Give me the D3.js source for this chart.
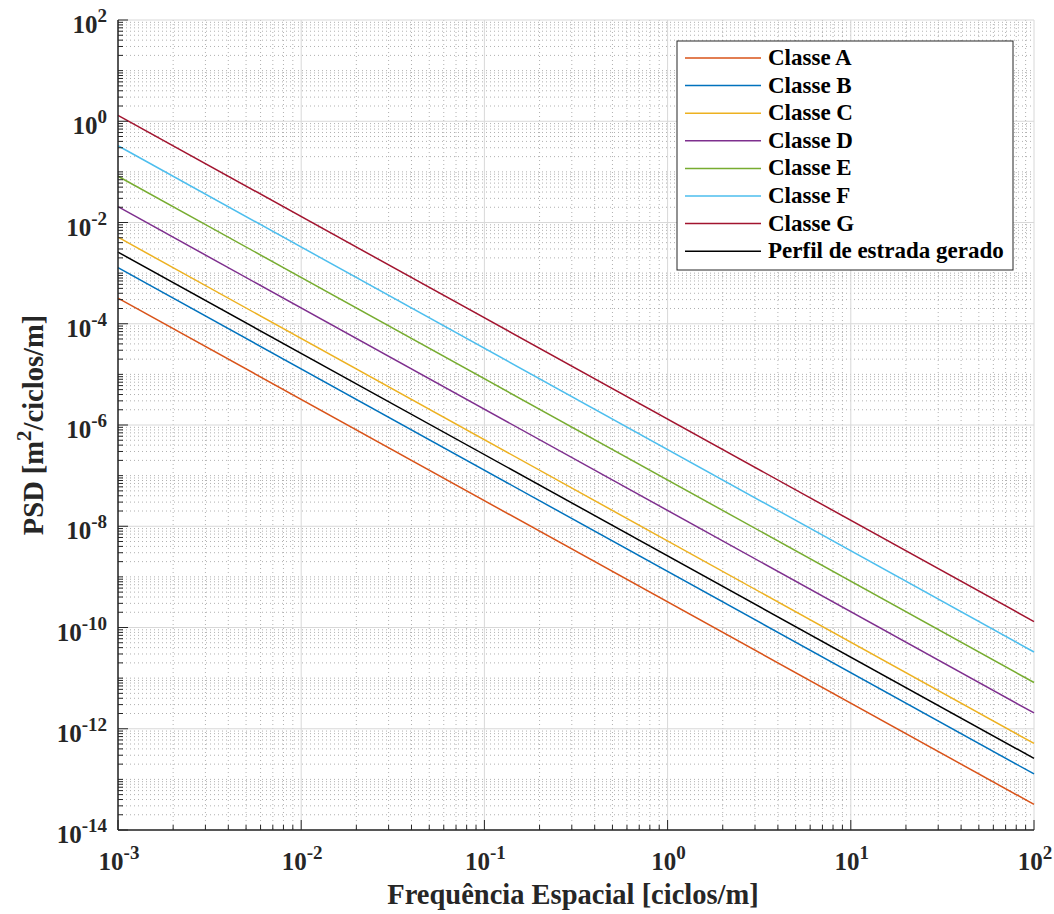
<!DOCTYPE html>
<html>
<head>
<meta charset="utf-8">
<script src="https://cdn.jsdelivr.net/npm/d3@7"></script>
<style>
  body { margin: 0; background: #fff; }
  text { font-family: "Liberation Serif", "Times New Roman", serif; font-weight: bold; }
</style>
</head>
<body>
<div></div>
<script>
// frequency endpoints (ciclos/m) and PSD values read at those endpoints
var freq = [1e-3, 1e2];
var names = ["Classe A", "Classe B", "Classe C", "Classe D", "Classe E", "Classe F", "Classe G", "Perfil de estrada gerado"];
var psdA = [3.2e-4, 3.2e-14];
var psdB = [1.28e-3, 1.28e-13];
var psdC = [5.12e-3, 5.12e-13];
var psdD = [2.05e-2, 2.05e-12];
var psdE = [8.2e-2, 8.2e-12];
var psdF = [3.28e-1, 3.28e-11];
var psdG = [1.31, 1.31e-10];
var psdPerfil = [2.6e-3, 2.6e-13];
var colors = ["#D95319", "#0072BD", "#EDB120", "#7E2F8E", "#77AC30", "#4DBEEE", "#A2142F", "#000000"];
var xTickExp = [-3, -2, -1, 0, 1, 2];
var yTickExp = [-14, -12, -10, -8, -6, -4, -2, 0, 2];

var series = [psdA, psdB, psdC, psdD, psdE, psdF, psdG, psdPerfil];

var W = 1054, H = 914;
var mLeft = 118, mRight = 1034, mTop = 20, mBottom = 830;

var svg = d3.select("div").append("svg").attr("width", W).attr("height", H);

var x = d3.scaleLog().domain([1e-3, 1e2]).range([mLeft, mRight]);
var y = d3.scaleLog().domain([1e-14, 1e2]).range([mBottom, mTop]);

// minor grid values
var xMinor = [], yMinor = [];
for (var e = -3; e < 2; e++) for (var k = 2; k <= 9; k++) xMinor.push(k * Math.pow(10, e));
for (var e = -14; e < 2; e++) for (var k = 1; k <= 9; k++) {
  if (k == 1 && e % 2 == 0) continue;
  yMinor.push(k * Math.pow(10, e));
}

var grid = svg.append("g");
grid.selectAll(".xm").data(xMinor).enter().append("line")
  .attr("x1", d => x(d)).attr("x2", d => x(d)).attr("y1", mTop).attr("y2", mBottom)
  .attr("stroke", "#b0b0b0").attr("stroke-width", 1).attr("stroke-dasharray", "1,3");
grid.selectAll(".ym").data(yMinor).enter().append("line")
  .attr("y1", d => y(d)).attr("y2", d => y(d)).attr("x1", mLeft).attr("x2", mRight)
  .attr("stroke", "#b0b0b0").attr("stroke-width", 1).attr("stroke-dasharray", "1,3");
grid.selectAll(".xM").data(xTickExp).enter().append("line")
  .attr("x1", d => x(Math.pow(10, d))).attr("x2", d => x(Math.pow(10, d))).attr("y1", mTop).attr("y2", mBottom)
  .attr("stroke", "#d8d8d8").attr("stroke-width", 1);
grid.selectAll(".yM").data(yTickExp).enter().append("line")
  .attr("y1", d => y(Math.pow(10, d))).attr("y2", d => y(Math.pow(10, d))).attr("x1", mLeft).attr("x2", mRight)
  .attr("stroke", "#d8d8d8").attr("stroke-width", 1);

// lines
var line = d3.line().x((d, i) => x(freq[i])).y(d => y(d));
svg.selectAll(".series").data(series).enter().append("path")
  .attr("d", d => line(d))
  .attr("fill", "none")
  .attr("stroke", (d, i) => colors[i])
  .attr("stroke-width", 1.5);

// axes (ticks pointing inward)
var axes = svg.append("g").attr("stroke", "#262626");
axes.append("line").attr("x1", mLeft).attr("x2", mRight).attr("y1", mBottom).attr("y2", mBottom).attr("stroke-width", 1.5);
axes.append("line").attr("x1", mLeft).attr("x2", mLeft).attr("y1", mTop).attr("y2", mBottom).attr("stroke-width", 1.5);
axes.selectAll(".xt").data(xMinor.concat(xTickExp.map(d => Math.pow(10, d)))).enter().append("line")
  .attr("x1", d => x(d)).attr("x2", d => x(d)).attr("y1", mBottom)
  .attr("y2", (d, i) => mBottom - (i < xMinor.length ? 5 : 10)).attr("stroke-width", 1);
axes.selectAll(".yt").data(yMinor.concat(yTickExp.map(d => Math.pow(10, d)))).enter().append("line")
  .attr("y1", d => y(d)).attr("y2", d => y(d)).attr("x1", mLeft)
  .attr("x2", (d, i) => mLeft + (i < yMinor.length ? 5 : 10)).attr("stroke-width", 1);

// tick labels
var xl = svg.selectAll(".xl").data(xTickExp).enter().append("text")
  .attr("x", d => x(Math.pow(10, d)) + 1).attr("y", 870)
  .attr("text-anchor", "middle").attr("font-size", 25).attr("fill", "#262626");
xl.append("tspan").text("10");
xl.append("tspan").attr("dy", -11).attr("font-size", 19).text(d => d);

var yl = svg.selectAll(".yl").data(yTickExp).enter().append("text")
  .attr("x", 107).attr("y", d => y(Math.pow(10, d)) + 13)
  .attr("text-anchor", "end").attr("font-size", 25).attr("fill", "#262626");
yl.append("tspan").text("10");
yl.append("tspan").attr("dy", -11).attr("font-size", 19).text(d => d);

// axis titles
svg.append("text").attr("x", 573).attr("y", 904)
  .attr("text-anchor", "middle").attr("font-size", 28.5).attr("fill", "#262626")
  .text("Frequência Espacial [ciclos/m]");
var yt = svg.append("text").attr("transform", "translate(43," + ((mTop + mBottom) / 2) + ") rotate(-90)")
  .attr("text-anchor", "middle").attr("font-size", 28.5).attr("fill", "#262626");
yt.append("tspan").text("PSD [m");
yt.append("tspan").attr("dy", -12).attr("font-size", 21).text("2");
yt.append("tspan").attr("dy", 12).text("/ciclos/m]");

// legend
var lg = svg.append("g");
lg.append("rect").attr("x", 677).attr("y", 41).attr("width", 336).attr("height", 229)
  .attr("fill", "#fff").attr("stroke", "#262626").attr("stroke-width", 1);
var rows = lg.selectAll(".row").data(names).enter().append("g")
  .attr("transform", (d, i) => "translate(0," + (58 + i * 27.6) + ")");
rows.append("line").attr("x1", 685).attr("x2", 761).attr("y1", 0).attr("y2", 0)
  .attr("stroke", (d, i) => colors[i]).attr("stroke-width", 1.5);
rows.append("text").attr("x", 768).attr("y", 7).attr("font-size", 23).attr("fill", "#000").text(d => d);
</script>
</body>
</html>
